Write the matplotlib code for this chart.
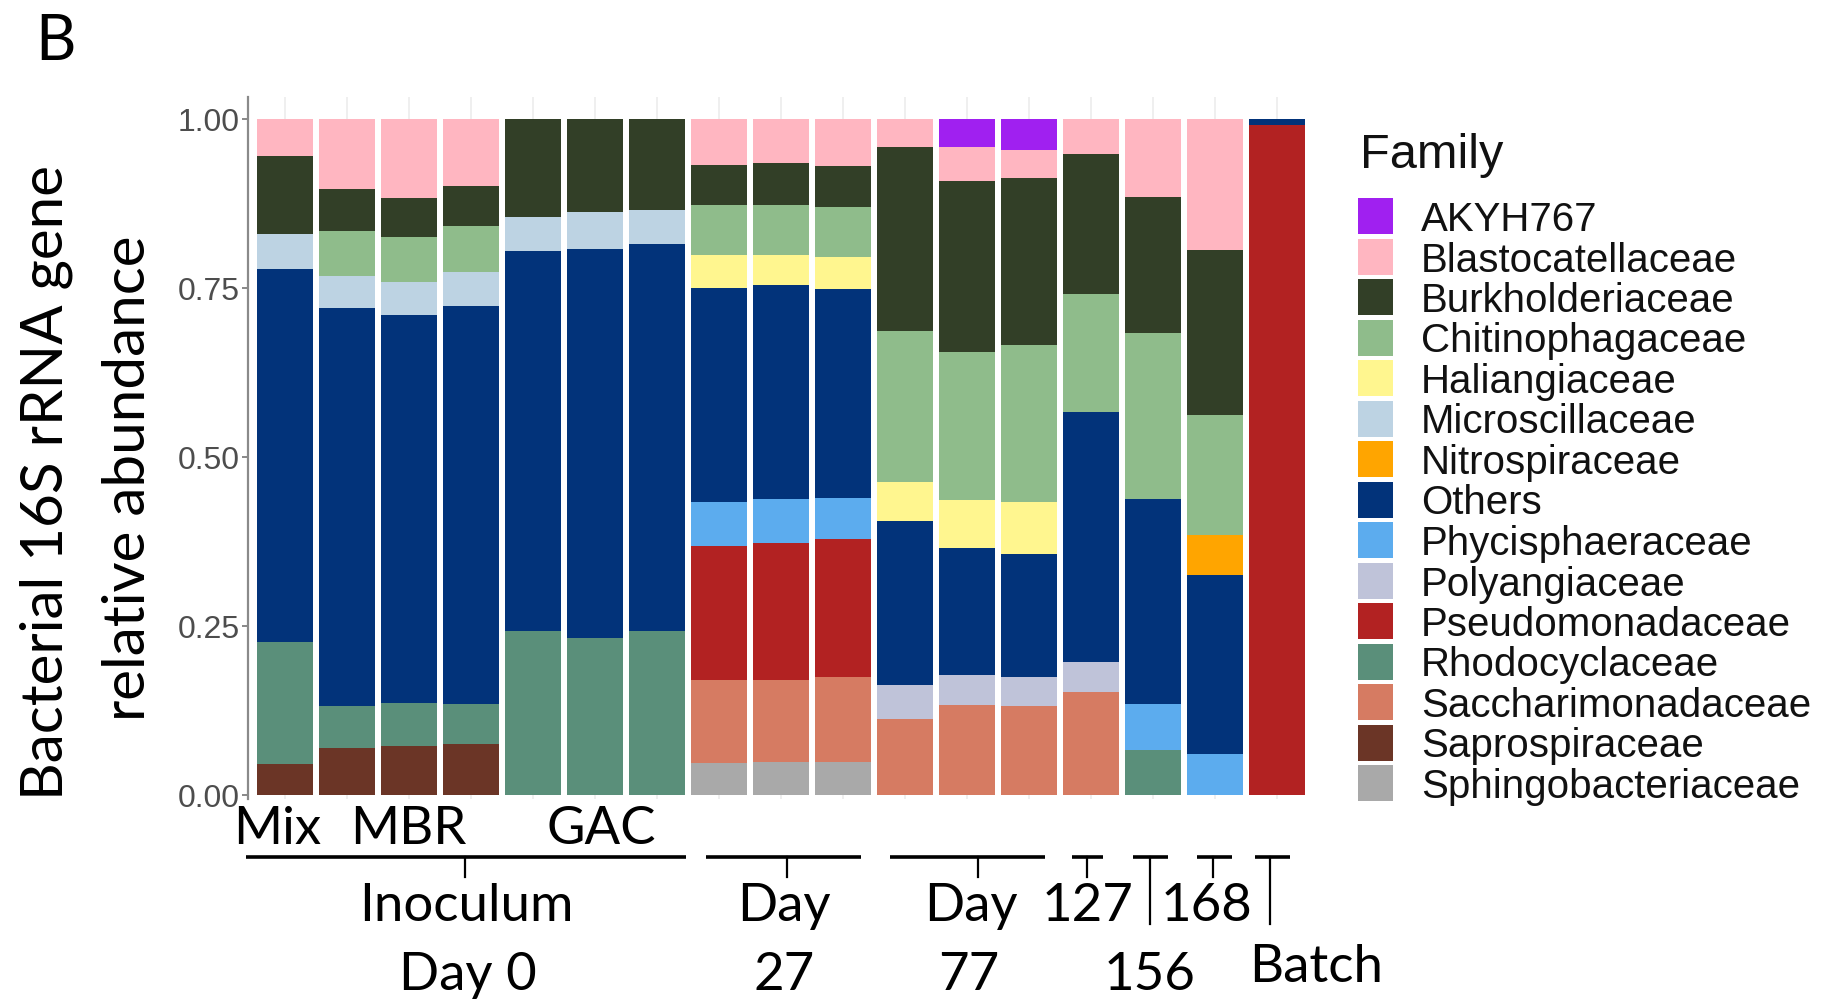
import numpy as np
import matplotlib.pyplot as plt
from matplotlib.patches import Rectangle
from matplotlib.lines import Line2D
import matplotlib.transforms as mtransforms

# samples in plotting order (left to right)
samples = ['Mix', 'MBR_1', 'MBR_2', 'MBR_3', 'GAC_1', 'GAC_2', 'GAC_3',
           'D27_1', 'D27_2', 'D27_3', 'D77_1', 'D77_2', 'D77_3',
           'D127', 'D156', 'D168', 'Batch']

families = ['AKYH767', 'Blastocatellaceae', 'Burkholderiaceae', 'Chitinophagaceae',
            'Haliangiaceae', 'Microscillaceae', 'Nitrospiraceae', 'Others',
            'Phycisphaeraceae', 'Polyangiaceae', 'Pseudomonadaceae', 'Rhodocyclaceae',
            'Saccharimonadaceae', 'Saprospiraceae', 'Sphingobacteriaceae']

family_colors = ['#A020F0', '#FFB6C1', '#323F27', '#8FBC8B', '#FFF68F', '#BDD3E3',
                 '#FFA500', '#02337A', '#5CACEE', '#BFC3D9', '#B22222', '#5A8F7A',
                 '#D67B62', '#6B3526', '#A9A9A9']

# relative abundance per family, one value per sample
akyh767 = [0, 0, 0, 0, 0, 0, 0, 0, 0, 0, 0, 0.042, 0.046, 0, 0, 0, 0]
blastocatellaceae = [0.055, 0.104, 0.117, 0.099, 0, 0, 0, 0.068, 0.065, 0.070,
                     0.042, 0.050, 0.041, 0.052, 0.115, 0.194, 0]
burkholderiaceae = [0.115, 0.062, 0.058, 0.059, 0.145, 0.138, 0.135, 0.060, 0.062, 0.060,
                    0.272, 0.252, 0.247, 0.207, 0.202, 0.244, 0]
chitinophagaceae = [0, 0.066, 0.066, 0.069, 0, 0, 0, 0.073, 0.074, 0.074,
                    0.223, 0.220, 0.232, 0.174, 0.245, 0.177, 0]
haliangiaceae = [0, 0, 0, 0, 0, 0, 0, 0.049, 0.044, 0.048, 0.058, 0.070, 0.078, 0, 0, 0, 0]
microscillaceae = [0.052, 0.048, 0.049, 0.049, 0.051, 0.054, 0.050, 0, 0, 0, 0, 0, 0, 0, 0, 0, 0]
nitrospiraceae = [0, 0, 0, 0, 0, 0, 0, 0, 0, 0, 0, 0, 0, 0, 0, 0.060, 0]
others = [0.552, 0.588, 0.574, 0.590, 0.562, 0.576, 0.573, 0.317, 0.317, 0.308,
          0.243, 0.189, 0.182, 0.370, 0.304, 0.264, 0.009]
phycisphaeraceae = [0, 0, 0, 0, 0, 0, 0, 0.065, 0.065, 0.062, 0, 0, 0, 0, 0.067, 0.061, 0]
polyangiaceae = [0, 0, 0, 0, 0, 0, 0, 0, 0, 0, 0.050, 0.044, 0.043, 0.044, 0, 0, 0]
pseudomonadaceae = [0, 0, 0, 0, 0, 0, 0, 0.198, 0.203, 0.203, 0, 0, 0, 0, 0, 0, 0.991]
rhodocyclaceae = [0.180, 0.062, 0.063, 0.059, 0.242, 0.232, 0.242, 0, 0, 0,
                  0, 0, 0, 0, 0.067, 0, 0]
saccharimonadaceae = [0, 0, 0, 0, 0, 0, 0, 0.123, 0.121, 0.126, 0.112, 0.133, 0.131, 0.153, 0, 0, 0]
saprospiraceae = [0.046, 0.070, 0.073, 0.075, 0, 0, 0, 0, 0, 0, 0, 0, 0, 0, 0, 0, 0]
sphingobacteriaceae = [0, 0, 0, 0, 0, 0, 0, 0.047, 0.049, 0.049, 0, 0, 0, 0, 0, 0, 0]

abundance = [akyh767, blastocatellaceae, burkholderiaceae, chitinophagaceae, haliangiaceae,
             microscillaceae, nitrospiraceae, others, phycisphaeraceae, polyangiaceae,
             pseudomonadaceae, rhodocyclaceae, saccharimonadaceae, saprospiraceae,
             sphingobacteriaceae]

yticks = [0.0, 0.25, 0.5, 0.75, 1.0]
ytick_labels = ['0.00', '0.25', '0.50', '0.75', '1.00']

# group labels under the bars (x in bar positions)
top_labels = [('Mix', 0.87), ('MBR', 2.98), ('GAC', 6.1)]
brackets = [(0.36, 7.47, 3.9, 'short'), (7.79, 10.29, 9.1, 'short'), (10.76, 13.26, 12.18, 'short'),
            (13.69, 14.19, 13.94, 'short'), (14.68, 15.24, 14.95, 'long'),
            (15.71, 16.27, 15.97, 'short'), (16.65, 17.21, 16.89, 'long')]
row2_labels = [('Inoculum', 3.92), ('Day', 9.05), ('Day', 12.06), ('127', 13.94), ('168', 15.87)]
row3_labels = [('Day 0', 3.94), ('27', 9.05), ('77', 12.03), ('156', 14.95)]

W, H = 1830, 1004
fig = plt.figure(figsize=(W / 100, H / 100), dpi=100)


def fx(x):
    return x / W


def fy(y):
    return 1 - y / H


ax = fig.add_axes([fx(248), fy(800), fx(1314) - fx(248), fy(98) - fy(800)])

x = np.arange(1, len(samples) + 1)
bottom = np.zeros(len(samples))
# ggplot stacks the first level on top, so draw from the last family upward
for fam, col, vals in reversed(list(zip(families, family_colors, abundance))):
    vals = np.array(vals)
    ax.bar(x, vals, width=0.9, bottom=bottom, color=col, edgecolor='none', zorder=2)
    bottom += vals

ax.set_xlim(0.4, len(samples) + 0.6)
ax.set_ylim(-0.006, 1.0325)
ax.set_xticks(x)
ax.set_xticklabels([])
ax.tick_params(axis='x', length=0)
ax.xaxis.grid(True, color='#EBEBEB', lw=1.1, zorder=0)
ax.set_axisbelow(True)
ax.set_yticks(yticks)
ax.set_yticklabels(ytick_labels, fontsize=23, color='#4D4D4D', family='Liberation Sans')
ax.tick_params(axis='y', length=4, width=1.3, color='#7F7F7F', pad=2)
for s in ['top', 'right', 'bottom']:
    ax.spines[s].set_visible(False)
ax.spines['left'].set_color('#8A8A8A')
ax.spines['left'].set_linewidth(1.6)

# y label (two lines)
lab_font = dict(family='Lato', fontsize=42, color='black', rotation=90,
                rotation_mode='anchor', ha='center', va='baseline')
fig.text(fx(63), fy(483), 'Bacterial 16S rRNA gene', **lab_font)
fig.text(fx(145), fy(478), 'relative abundance', **lab_font)

fig.text(fx(35), fy(60), 'B', family='Lato', fontsize=45, ha='left', va='baseline')

# annotations below the panel
trans = mtransforms.blended_transform_factory(ax.transData, fig.transFigure)
ann = dict(family='Lato', fontsize=38, color='black', va='baseline', transform=trans)
for txt, xp in top_labels:
    fig.text(xp, fy(844), txt, ha='center', **ann)
line_y = fy(858)
for x0, x1, xs, kind in brackets:
    fig.add_artist(Line2D([x0, x1], [line_y, line_y], color='black', lw=2.6, transform=trans,
                          solid_capstyle='butt'))
    y_end = fy(878) if kind == 'short' else fy(925)
    fig.add_artist(Line2D([xs, xs], [line_y, y_end], color='black', lw=1.6, transform=trans))
for txt, xp in row2_labels:
    fig.text(xp, fy(921), txt, ha='center', **ann)
for txt, xp in row3_labels:
    fig.text(xp, fy(990), txt, ha='center', **ann)
fig.text(16.56, fy(982), 'Batch', ha='left', **ann)

# legend
fig.text(fx(1360), fy(168), 'Family', family='Liberation Sans', fontsize=35,
         color='#111111', ha='left', va='baseline')
for i, (fam, col) in enumerate(zip(families, family_colors)):
    top = 199 + 40.5 * i
    fig.add_artist(Rectangle((fx(1358), fy(top + 36)), fx(35), 36 / H, facecolor=col,
                             edgecolor='none', transform=fig.transFigure))
    fig.text(fx(1421), fy(top + 18 + 14), fam, family='Liberation Sans', fontsize=29,
             color='#111111', ha='left', va='baseline')

fig.savefig('out.png', dpi=100)
